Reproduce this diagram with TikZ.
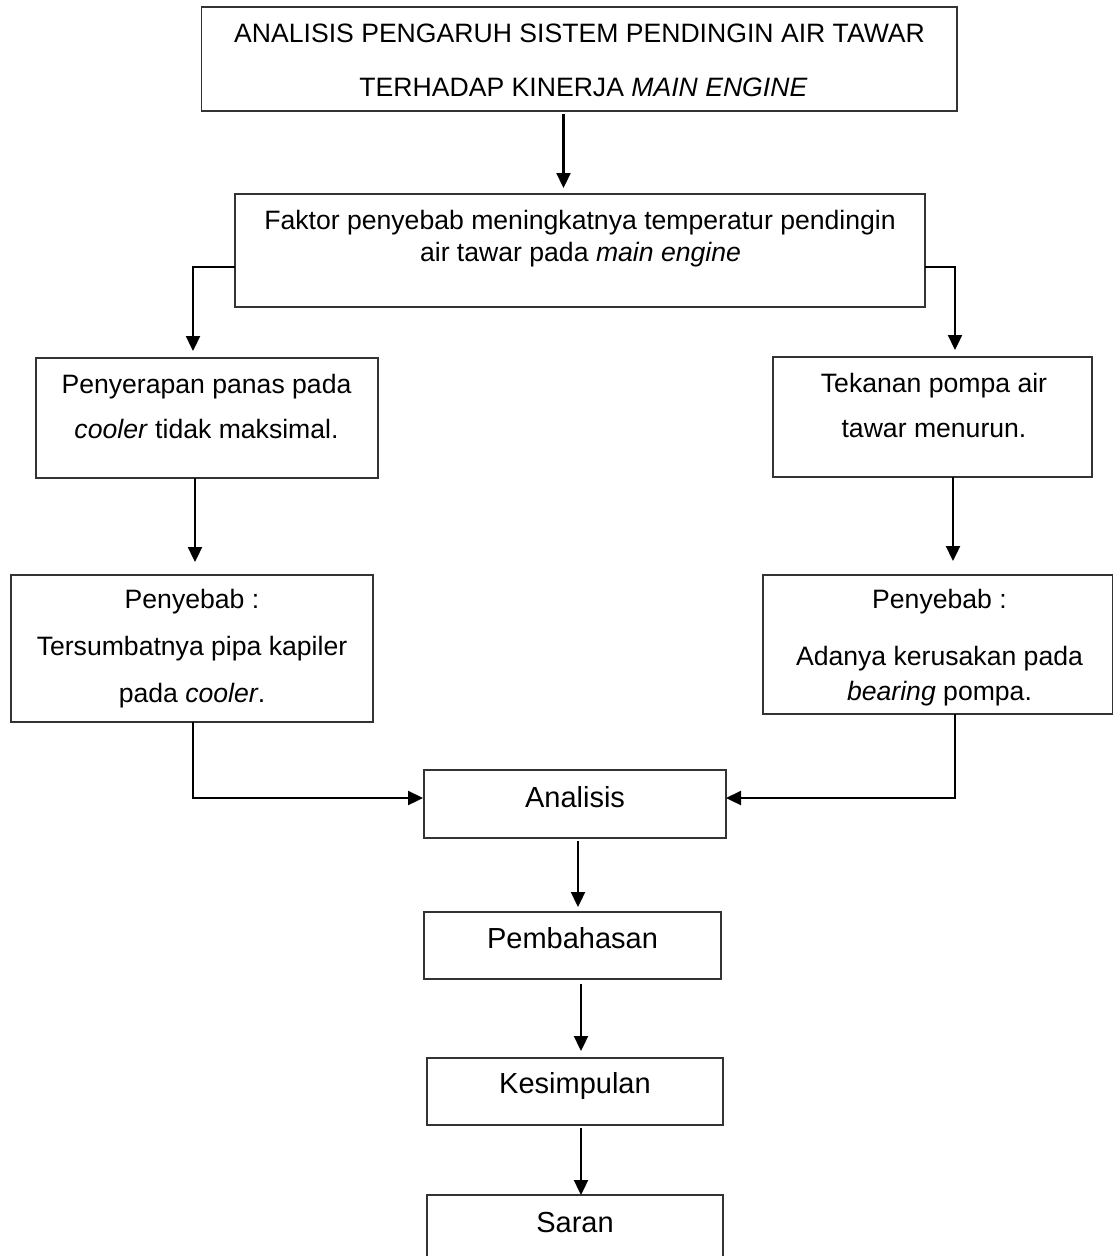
\documentclass[tikz,border=0pt]{standalone}
\usepackage{fontspec}
\setmainfont{Liberation Sans}
\usetikzlibrary{arrows.meta}
\begin{document}
\begin{tikzpicture}[x=1pt,y=-1pt,
  bx/.style={draw=black!80, line width=1.3pt, inner sep=0pt, outer sep=0pt},
  tx/.style={anchor=base, inner sep=0pt, font=\fontsize{26.6}{32}\selectfont},
  txb/.style={anchor=base, inner sep=0pt, font=\fontsize{29}{34}\selectfont},
  arr/.style={line width=2.3pt, -{Triangle[width=14pt,length=15pt]}}]
\useasboundingbox (0,0) rectangle (1113,1256);
% boxes
\node[bx, minimum width=755.5pt, minimum height=104pt] (b1) at (579.25,59) {};
\node[bx, minimum width=690pt, minimum height=113pt] (b2) at (580,250.5) {};
\node[bx, minimum width=342pt, minimum height=120pt] (b3l) at (207,418) {};
\node[bx, minimum width=319pt, minimum height=120pt] (b3r) at (932.5,417) {};
\node[bx, minimum width=362pt, minimum height=147pt] (b4l) at (192,648.5) {};
\node[bx, minimum width=350pt, minimum height=139pt] (b4r) at (938,644.5) {};
\node[bx, minimum width=302pt, minimum height=68pt] (an) at (575,804) {};
\node[bx, minimum width=297pt, minimum height=67pt] (pb) at (572.5,945.5) {};
\node[bx, minimum width=296pt, minimum height=67pt] (ks) at (575,1091.5) {};
\node[bx, minimum width=296pt, minimum height=65pt] (sr) at (575,1227.5) {};
% texts
\node[tx] (t1a) at (579.5,42) {ANALISIS PENGARUH SISTEM PENDINGIN AIR TAWAR};
\node[tx] (t1b) at (583.5,96) {TERHADAP KINERJA \textit{MAIN ENGINE}};
\node[tx] (t2a) at (580,229) {Faktor penyebab meningkatnya temperatur pendingin};
\node[tx] (t2b) at (580.5,261) {air tawar pada \textit{main engine}};
\node[tx] (t3la) at (206.5,393) {Penyerapan panas pada};
\node[tx] (t3lb) at (206.5,438) {\textit{cooler} tidak maksimal.};
\node[tx] (t3ra) at (934,392) {Tekanan pompa air};
\node[tx] (t3rb) at (934,437) {tawar menurun.};
\node[tx] (t4la) at (192,608) {Penyebab :};
\node[tx] (t4lb) at (192,655) {Tersumbatnya pipa kapiler};
\node[tx] (t4lc) at (192,702) {pada \textit{cooler}.};
\node[tx] (t4ra) at (939.5,608) {Penyebab :};
\node[tx] (t4rb) at (939.5,665) {Adanya kerusakan pada};
\node[tx] (t4rc) at (939.5,700) {\textit{bearing} pompa.};
\node[txb] (tan) at (575,807) {Analisis};
\node[txb] (tpb) at (572.5,948) {Pembahasan};
\node[txb] (tks) at (575,1093) {Kesimpulan};
\node[txb] (tsr) at (575,1232) {Saran};
% connector guides
\coordinate (a1) at (563.5,0);
\coordinate (cl) at (193,267);
\coordinate (cr) at (955,267);
\coordinate (a3l) at (195,0);
\coordinate (a3r) at (953,0);
\coordinate (el) at (193,798);
\coordinate (er) at (955,798);
\coordinate (a5) at (578,0);
\coordinate (a6) at (581,0);
% connectors
\draw[arr, shorten <=3pt, shorten >=6pt] (b1.south -| a1) -- (b2.north -| a1);
\draw[arr, shorten >=7pt] (b2.west |- cl) -| (b3l.north -| cl);
\draw[arr, shorten >=7pt] (b2.east |- cr) -| (b3r.north -| cr);
\draw[arr, shorten >=13pt] (b3l.south -| a3l) -- (b4l.north -| a3l);
\draw[arr, shorten >=14pt] (b3r.south -| a3r) -- (b4r.north -| a3r);
\draw[arr, shorten >=1pt] (b4l.south -| el) |- (an.west |- el);
\draw[arr] (b4r.south -| er) |- (an.east |- er);
\draw[arr, shorten <=3pt, shorten >=5pt] (an.south -| a5) -- (pb.north -| a5);
\draw[arr, shorten <=5pt, shorten >=7pt] (pb.south -| a6) -- (ks.north -| a6);
\draw[arr, shorten <=3pt] (ks.south -| a6) -- (sr.north -| a6);
\end{tikzpicture}
\end{document}
